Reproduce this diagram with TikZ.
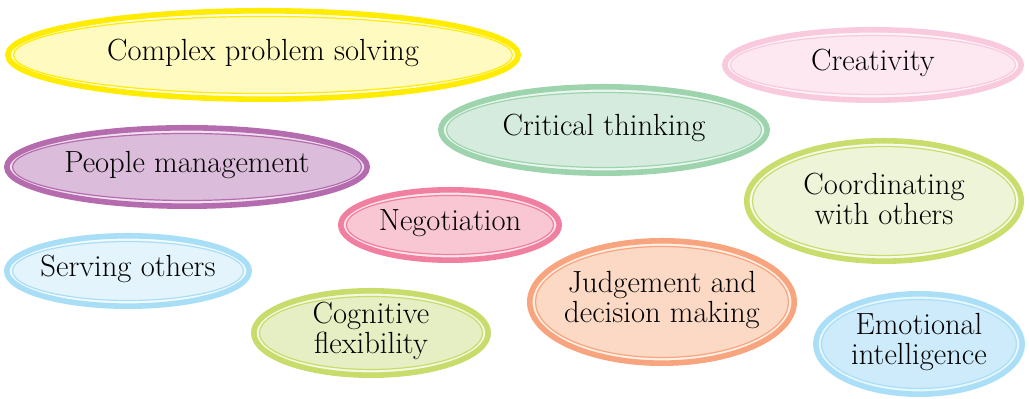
\documentclass[tikz,border=0pt]{standalone}
\usepackage{tikz}

\definecolor{yelB}{HTML}{FFEC00}\definecolor{yelF}{HTML}{FFFAC0}
\definecolor{pinkB}{HTML}{F9C9DD}\definecolor{pinkF}{HTML}{FDE8F1}
\definecolor{mintB}{HTML}{9DD4AE}\definecolor{mintF}{HTML}{D5EBDD}
\definecolor{plumB}{HTML}{B56CAE}\definecolor{plumF}{HTML}{DCBCDB}
\definecolor{limeB}{HTML}{C9DD6C}\definecolor{limeF}{HTML}{EEF4D8}
\definecolor{roseB}{HTML}{F17F9F}\definecolor{roseF}{HTML}{F9C6D3}
\definecolor{skyB}{HTML}{A9DEF7}\definecolor{skyF}{HTML}{E4F4FC}
\definecolor{peachB}{HTML}{F8A47E}\definecolor{peachF}{HTML}{FCD9C4}
\definecolor{oliveB}{HTML}{C7DC6B}\definecolor{oliveF}{HTML}{E6EFC3}
\definecolor{iceB}{HTML}{AADFF7}\definecolor{iceF}{HTML}{CDEBFB}

\tikzset{skill/.style={font=\fontsize{15.3}{15}\selectfont, align=center, inner sep=0pt}}

\begin{document}
\begin{tikzpicture}[x=0.5pt,y=0.5pt]
\useasboundingbox (0,0) rectangle (1029,399);

%\draw[black!10!white] (0,0) grid[step=50] (1029,399);

\foreach \n/\x/\y/\rx/\ry/\cb/\cf/\t in {
cps/263/344/258/47/yelB/yelF/{Complex problem solving},
crea/873/334/151/38/pinkB/pinkF/{Creativity},
crit/604/269/166/46/mintB/mintF/{Critical thinking},
ppl/187/232/183/42/plumB/plumF/{People management},
coord/884/198/140/63/limeB/limeF/{Coordinating\\with others},
nego/450/174/112/38/roseB/roseF/{Negotiation},
serv/128/128/124/38/skyB/skyF/{Serving others},
judg/662/97/135/64/peachB/peachF/{Judgement and\\decision making},
cogn/371/66/120/45/oliveB/oliveF/{Cognitive\\flexibility},
emo/919/55/106/53/iceB/iceF/{Emotional\\intelligence}}{
\filldraw[fill=\cf!45!white, draw=\cb, line width=2.8pt] (\x,\y) ellipse [x radius={\rx-2.8}, y radius={\ry-2.8}];
\filldraw[fill=\cf, draw=\cb, line width=0.6pt] (\x,\y) ellipse [x radius={\rx-8.5}, y radius={\ry-8.5}];
\node[skill] (\n) at (\x,\y+2) {\t};
}
\end{tikzpicture}
\end{document}
